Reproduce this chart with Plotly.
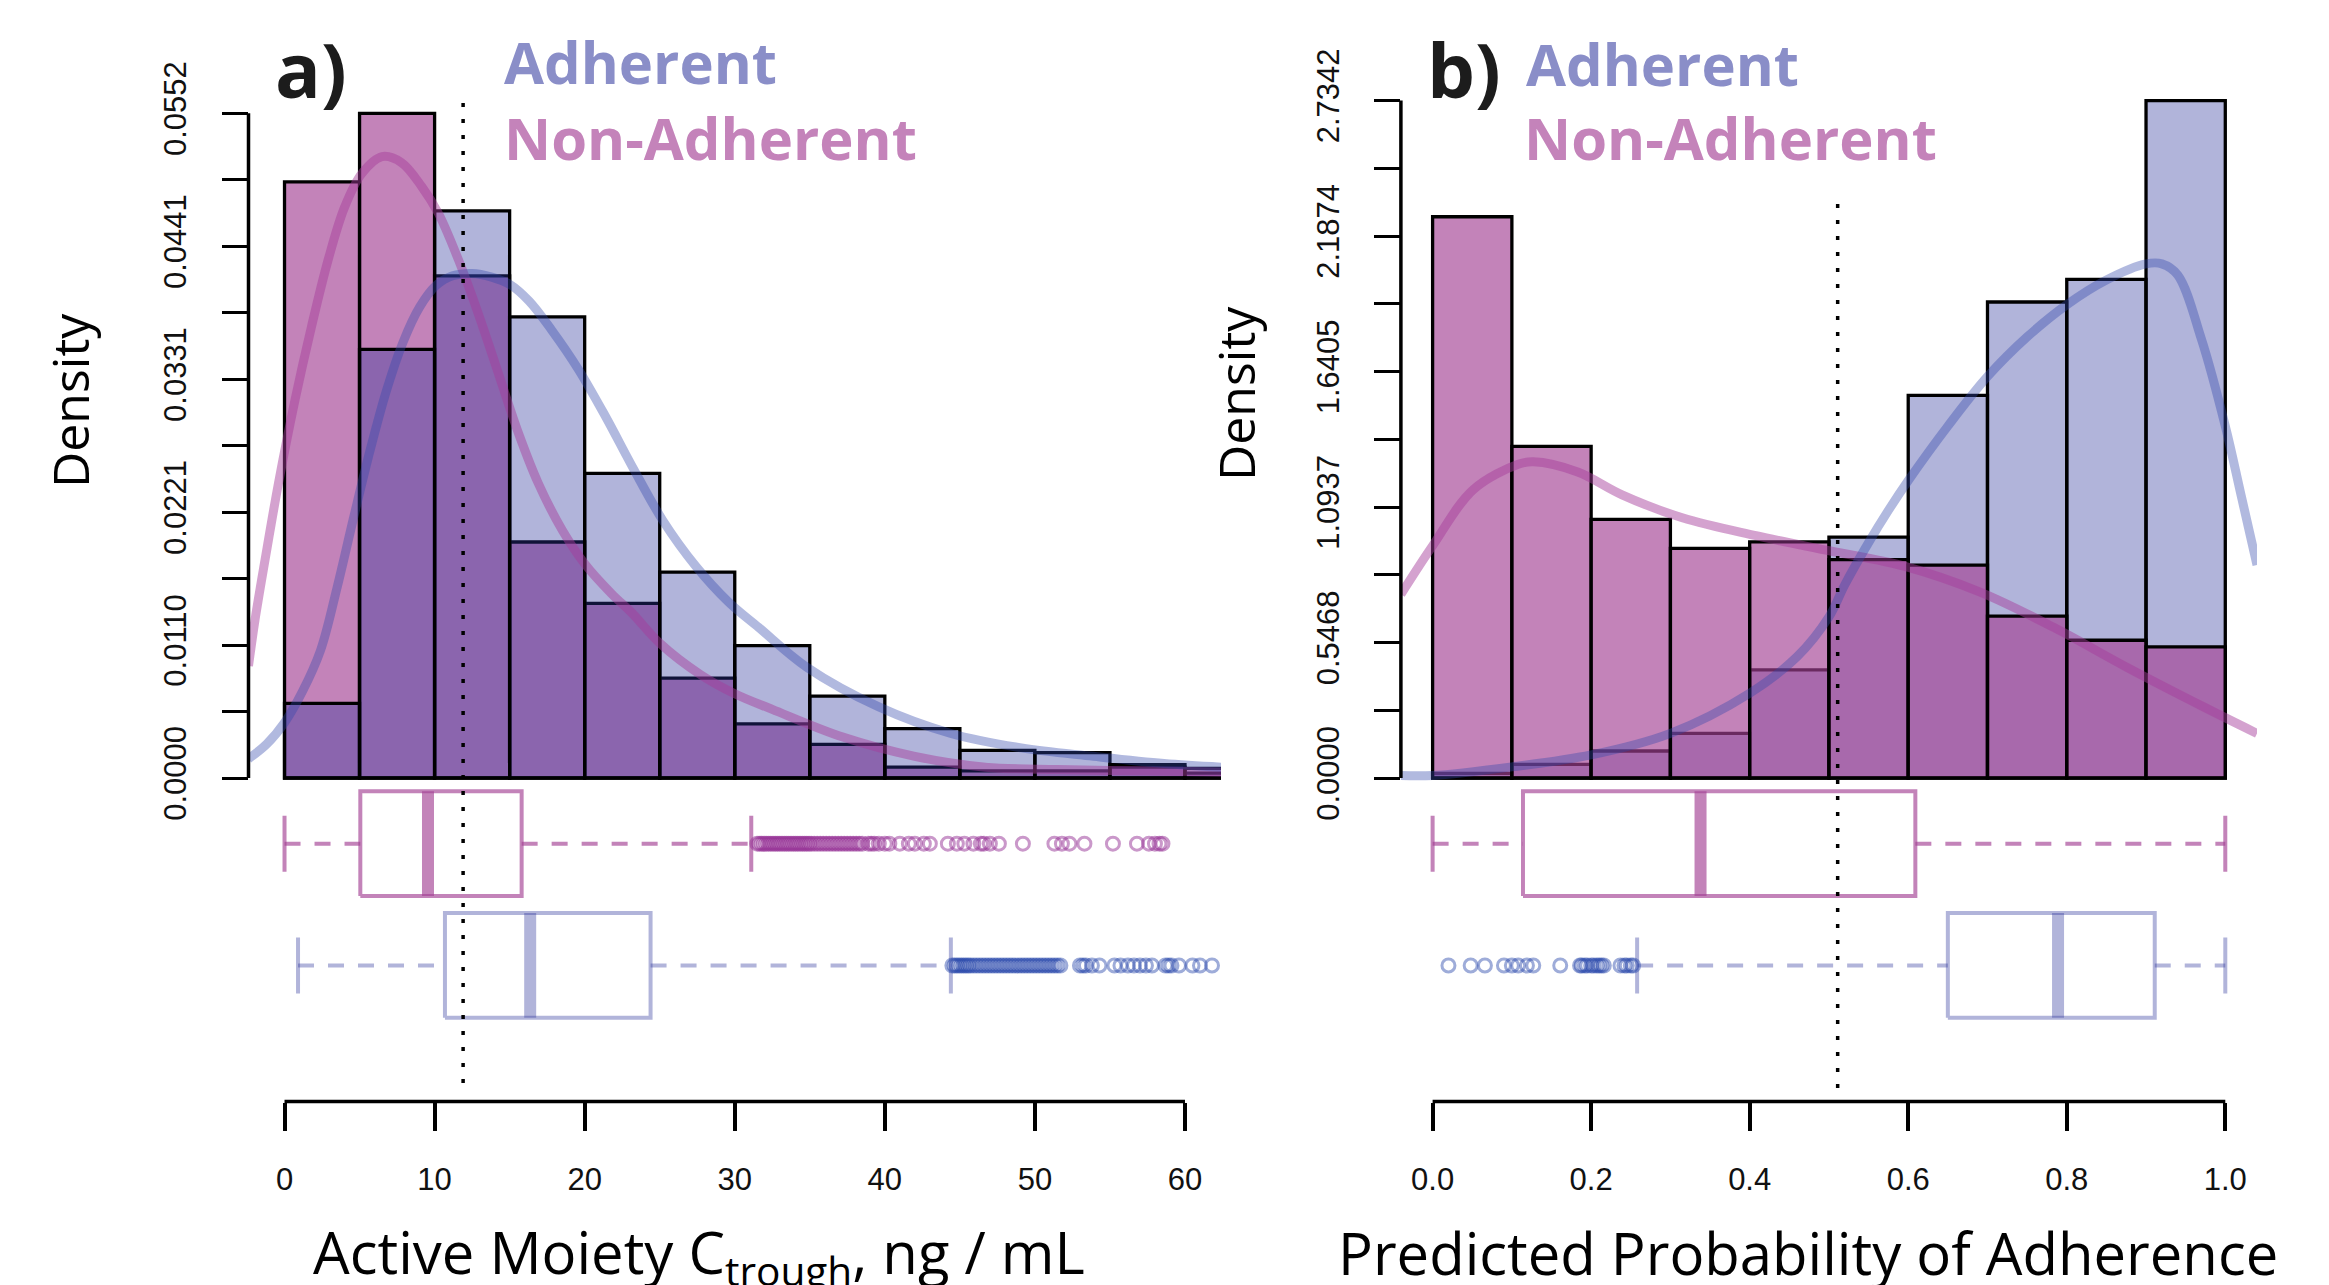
import plotly.graph_objects as go

W, H = 2329, 1285

# ---------------- Panel a: Active Moiety C_trough ----------------
ctrough_bin_edges = [0, 5, 10, 15, 20, 25, 30, 35, 40, 45, 50, 55, 60, 65]
ctrough_density_adherent = [0.0062, 0.0356, 0.0471, 0.0383, 0.0253, 0.0171, 0.0110,
                            0.0068, 0.0041, 0.0023, 0.0021, 0.0011, 0.0008]
ctrough_density_nonadherent = [0.0495, 0.0552, 0.0417, 0.0196, 0.0145, 0.0083, 0.0045,
                               0.0028, 0.0009, 0.0006, 0.0006, 0.0009, 0.0004]

ctrough_kde_adherent_x = [-2.4, -1.2, 0, 1.2, 2.4, 3.5, 4.6, 5.7, 6.8, 7.9, 9.0, 10.1, 11.2,
                          12.5, 13.8, 15.0, 16.3, 17.8, 19.6, 21.4, 23.2, 25.2, 27.4, 29.6,
                          31.6, 34.8, 39.6, 44.4, 49.1, 53.9, 58.6, 62.4]
ctrough_kde_adherent_y = [0.0016, 0.0028, 0.0046, 0.0072, 0.0106, 0.0158, 0.0216, 0.0272,
                          0.0322, 0.0362, 0.0391, 0.0409, 0.0417, 0.0419, 0.0416, 0.0410,
                          0.0396, 0.0372, 0.0339, 0.0300, 0.0258, 0.0214, 0.0176, 0.0146,
                          0.0125, 0.0092, 0.0059, 0.0037, 0.0025, 0.0018, 0.0012, 0.0009]
ctrough_kde_nonadherent_x = [-2.4, -1.97, -1.3, -0.4, 0.7, 1.8, 2.9, 4.0, 5.15, 6.5, 7.8,
                             9.15, 10.25, 11.6, 12.9, 14.25, 15.6, 16.9, 18.5, 20.0, 21.8,
                             23.15, 25.0, 27.7, 30.0, 32.5, 37.2, 42.0, 46.7, 51.5, 57.0, 62.4]
ctrough_kde_nonadherent_y = [0.0093, 0.0131, 0.0181, 0.0245, 0.0314, 0.0375, 0.0430, 0.0474,
                             0.0502, 0.0516, 0.0511, 0.0491, 0.0469, 0.0430, 0.0386, 0.0336,
                             0.0286, 0.0245, 0.0206, 0.0178, 0.0153, 0.0137, 0.0112, 0.0086,
                             0.0070, 0.0057, 0.0034, 0.0018, 0.0009, 0.0007, 0.0006, 0.0005]

# box stats: [lower whisker, Q1, median, Q3, upper whisker]
ctrough_box_adherent = [0.9, 10.69, 16.37, 24.39, 44.4]
ctrough_box_nonadherent = [0.0, 5.05, 9.56, 15.8, 31.1]
ctrough_outliers_adherent = [44.5, 44.65, 44.8, 44.95, 45.1, 45.25, 45.4, 45.55, 45.7, 45.9,
                             46.1, 46.3, 46.5, 46.7, 46.9, 47.1, 47.3, 47.5, 47.7, 47.9, 48.1,
                             48.3, 48.5, 48.7, 48.9, 49.1, 49.3, 49.5, 49.7, 49.9, 50.1, 50.3,
                             50.5, 50.7, 50.9, 51.1, 51.3, 51.5, 51.7, 53.0, 53.2, 53.4, 53.8,
                             54.3, 55.3, 55.7, 56.2, 56.6, 57.0, 57.4, 57.8, 58.7, 58.9, 59.1,
                             59.6, 60.5, 61.0, 61.8]
ctrough_outliers_nonadherent = [31.5, 31.65, 31.8, 31.95, 32.1, 32.25, 32.4, 32.55, 32.7, 32.85,
                                33.0, 33.15, 33.3, 33.45, 33.6, 33.75, 33.9, 34.05, 34.2, 34.35,
                                34.5, 34.65, 34.8, 34.95, 35.1, 35.3, 35.5, 35.7, 35.9, 36.1,
                                36.3, 36.5, 36.7, 36.9, 37.1, 37.3, 37.5, 37.7, 37.9, 38.1,
                                38.3, 38.5, 38.9, 39.1, 39.3, 39.6, 40.0, 40.3, 41.0, 41.6,
                                42.0, 42.6, 43.0, 44.2, 44.8, 45.3, 45.9, 46.4, 46.6, 47.0,
                                47.6, 49.2, 51.3, 51.8, 52.3, 53.3, 55.2, 56.8, 57.6, 58.0,
                                58.3, 58.5]
ctrough_cutoff = 11.9

ctrough_xticks = [0, 10, 20, 30, 40, 50, 60]
density_a_ticks = [0.0, 0.01104, 0.02208, 0.03312, 0.04416, 0.0552]
density_a_ticklabels = ["0.0000", "0.0110", "0.0221", "0.0331", "0.0441", "0.0552"]
density_a_minor = [0.00552, 0.01656, 0.0276, 0.03864, 0.04968]

# ---------------- Panel b: Predicted probability ----------------
prob_bin_edges = [0.0, 0.1, 0.2, 0.3, 0.4, 0.5, 0.6, 0.7, 0.8, 0.9, 1.0]
prob_density_adherent = [0.019, 0.055, 0.109, 0.180, 0.436, 0.972, 1.544, 1.921, 2.012, 2.734]
prob_density_nonadherent = [2.265, 1.338, 1.044, 0.927, 0.953, 0.881, 0.859, 0.653, 0.556, 0.529]

prob_kde_adherent_x = [-0.04, 0.0, 0.1, 0.2, 0.3, 0.4, 0.46, 0.5, 0.52, 0.55, 0.575, 0.6, 0.65,
                       0.7, 0.75, 0.8, 0.85, 0.9, 0.92, 0.94, 0.97, 1.0, 1.02, 1.04]
prob_kde_adherent_y = [0.010, 0.010, 0.045, 0.093, 0.180, 0.342, 0.490, 0.650, 0.780, 0.950,
                       1.080, 1.200, 1.420, 1.620, 1.780, 1.910, 2.010, 2.075, 2.075, 2.030,
                       1.770, 1.420, 1.140, 0.860]
prob_kde_nonadherent_x = [-0.04, 0.0, 0.051, 0.108, 0.127, 0.183, 0.239, 0.315, 0.408, 0.502,
                          0.596, 0.690, 0.784, 0.878, 0.972, 1.04]
prob_kde_nonadherent_y = [0.741, 0.937, 1.163, 1.266, 1.276, 1.235, 1.143, 1.050, 0.978, 0.916,
                          0.854, 0.751, 0.607, 0.443, 0.288, 0.180]

prob_box_adherent = [0.258, 0.650, 0.789, 0.911, 1.0]
prob_box_nonadherent = [0.0, 0.114, 0.338, 0.609, 1.0]
prob_outliers_adherent = [0.020, 0.048, 0.066, 0.090, 0.100, 0.108, 0.119, 0.127, 0.161, 0.186,
                          0.188, 0.192, 0.195, 0.200, 0.203, 0.207, 0.210, 0.213, 0.216, 0.237,
                          0.242, 0.245, 0.250, 0.253]
prob_outliers_nonadherent = []
prob_cutoff = 0.511

prob_xticks = [0.0, 0.2, 0.4, 0.6, 0.8, 1.0]
prob_xticklabels = ["0.0", "0.2", "0.4", "0.6", "0.8", "1.0"]
density_b_ticks = [0.0, 0.54684, 1.09368, 1.64052, 2.18736, 2.7342]
density_b_ticklabels = ["0.0000", "0.5468", "1.0937", "1.6405", "2.1874", "2.7342"]
density_b_minor = [0.27342, 0.82026, 1.3671, 1.91394, 2.46078]

# ---------------- styling ----------------
PINK_FILL = "rgba(163,64,147,0.65)"
BLUE_FILL = "rgba(44,52,155,0.37)"
PINK_LINE = "rgba(165,60,155,0.48)"
BLUE_LINE = "rgba(50,70,170,0.38)"
PINK_PT = "rgba(150,50,150,0.5)"
BLUE_PT = "rgba(40,70,170,0.45)"
PINK_TXT = "rgb(196,131,186)"
BLUE_TXT = "rgb(138,142,200)"
TICK_FONT = dict(family="Liberation Sans, Arial, sans-serif", size=31, color="#111111")
TITLE_FAMILY = "Open Sans, sans-serif"


def px(x):
    return x / W


def py(y):
    return 1 - y / H


fig = go.Figure()


def centers(edges):
    return [(a + b) / 2 for a, b in zip(edges[:-1], edges[1:])]


def widths(edges):
    return [b - a for a, b in zip(edges[:-1], edges[1:])]


def add_hist(edges, vals, color, xa, ya):
    fig.add_trace(go.Bar(x=centers(edges), y=vals, width=widths(edges),
                         marker=dict(color=color, line=dict(color="black", width=3.3)),
                         xaxis=xa, yaxis=ya, hoverinfo="skip", showlegend=False))


def add_curve(xs, ys, color, xa, ya):
    fig.add_trace(go.Scatter(x=xs, y=ys, mode="lines", line=dict(color=color, width=9, shape="spline"),
                             xaxis=xa, yaxis=ya, hoverinfo="skip", showlegend=False))


def add_box(stats, pos, color, xa, ya, outliers, pt_color):
    lo, q1, med, q3, hi = stats
    h, s = 0.43, 0.23
    common = dict(mode="lines", xaxis=xa, yaxis=ya, hoverinfo="skip", showlegend=False)
    fig.add_trace(go.Scatter(x=[lo, q1, None, q3, hi], y=[pos, pos, None, pos, pos],
                             line=dict(color=color, width=4, dash="16px,14px"), **common))
    fig.add_trace(go.Scatter(x=[lo, lo, None, hi, hi], y=[pos - s, pos + s, None, pos - s, pos + s],
                             line=dict(color=color, width=4), **common))
    fig.add_trace(go.Scatter(x=[q1, q3, q3, q1, q1], y=[pos - h, pos - h, pos + h, pos + h, pos - h],
                             line=dict(color=color, width=4), **common))
    fig.add_trace(go.Scatter(x=[med, med], y=[pos - h, pos + h],
                             line=dict(color=color, width=12), **common))
    if outliers:
        fig.add_trace(go.Scatter(x=outliers, y=[pos] * len(outliers), mode="markers",
                                 marker=dict(symbol="circle-open", size=13, color=pt_color,
                                             line=dict(width=3, color=pt_color)),
                                 xaxis=xa, yaxis=ya, hoverinfo="skip", showlegend=False))


# panel a
add_hist(ctrough_bin_edges, ctrough_density_nonadherent, PINK_FILL, "x", "y")
add_hist(ctrough_bin_edges, ctrough_density_adherent, BLUE_FILL, "x", "y")
add_curve(ctrough_kde_nonadherent_x, ctrough_kde_nonadherent_y, PINK_LINE, "x", "y")
add_curve(ctrough_kde_adherent_x, ctrough_kde_adherent_y, BLUE_LINE, "x", "y")
add_box(ctrough_box_nonadherent, 2, PINK_FILL, "x2", "y2", ctrough_outliers_nonadherent, PINK_PT)
add_box(ctrough_box_adherent, 1, BLUE_FILL, "x2", "y2", ctrough_outliers_adherent, BLUE_PT)

# panel b
add_hist(prob_bin_edges, prob_density_adherent, BLUE_FILL, "x3", "y3")
add_hist(prob_bin_edges, prob_density_nonadherent, PINK_FILL, "x3", "y3")
add_curve(prob_kde_nonadherent_x, prob_kde_nonadherent_y, PINK_LINE, "x3", "y3")
add_curve(prob_kde_adherent_x, prob_kde_adherent_y, BLUE_LINE, "x3", "y3")
add_box(prob_box_nonadherent, 2, PINK_FILL, "x4", "y4", prob_outliers_nonadherent, PINK_PT)
add_box(prob_box_adherent, 1, BLUE_FILL, "x4", "y4", prob_outliers_adherent, BLUE_PT)

# ---------------- axes ----------------
xa_dom = [px(248.5), px(1221)]
xb_dom = [px(1400.9), px(2257)]
box_dom = [py(1101.5), py(786)]
box_range = [-0.1166, 2.4737]

hidden = dict(visible=False, showgrid=False, zeroline=False, automargin=False)


def yaxis_hist(dom, rng, tv, tt, minor):
    return dict(domain=dom, range=rng, tickvals=tv, ticktext=tt, ticks="outside", ticklen=26,
                tickwidth=3.3, tickcolor="black", tickangle=-90, tickfont=TICK_FONT,
                ticklabelstandoff=23, showline=False, showgrid=False, zeroline=False,
                automargin=False,
                minor=dict(tickvals=minor, ticks="outside", ticklen=26, tickwidth=3.3,
                           tickcolor="black", showgrid=False))


def xaxis_box(dom, rng, anchor, tv, tt):
    return dict(domain=dom, range=rng, anchor=anchor, tickvals=tv, ticktext=tt, ticks="outside",
                ticklen=28, tickwidth=3.5, tickcolor="black", tickfont=TICK_FONT,
                ticklabelstandoff=22, showline=False, showgrid=False, zeroline=False,
                automargin=False)


fig.update_layout(
    template="none",
    width=W, height=H, margin=dict(l=0, r=0, t=0, b=0, pad=0, autoexpand=False),
    paper_bgcolor="white", plot_bgcolor="white", barmode="overlay", showlegend=False,
    xaxis=dict(domain=xa_dom, range=[-2.4, 62.4], anchor="y", **hidden),
    yaxis=yaxis_hist([py(804.6), py(86.7)], [-0.002208, 0.057408], density_a_ticks,
                     density_a_ticklabels, density_a_minor) | dict(anchor="x"),
    xaxis2=xaxis_box(xa_dom, [-2.4, 62.4], "y2", ctrough_xticks, [str(t) for t in ctrough_xticks]),
    yaxis2=dict(domain=box_dom, range=box_range, anchor="x2", **hidden),
    xaxis3=dict(domain=xb_dom, range=[-0.04, 1.04], anchor="y3", **hidden),
    yaxis3=yaxis_hist([py(805.1), py(73.4)], [-0.109368, 2.843568], density_b_ticks,
                      density_b_ticklabels, density_b_minor) | dict(anchor="x3"),
    xaxis4=xaxis_box(xb_dom, [-0.04, 1.04], "y4", prob_xticks, prob_xticklabels),
    yaxis4=dict(domain=box_dom, range=box_range, anchor="x4", **hidden),
)

# axis lines (R style: spanning first to last tick only)
axis_line = dict(color="black", width=3.5)
fig.add_shape(type="line", xref="x domain", yref="y", x0=0, x1=0,
              y0=density_a_ticks[0], y1=density_a_ticks[-1], line=axis_line)
fig.add_shape(type="line", xref="x3 domain", yref="y3", x0=0, x1=0,
              y0=density_b_ticks[0], y1=density_b_ticks[-1], line=axis_line)
fig.add_shape(type="line", xref="x2", yref="y2 domain", x0=ctrough_xticks[0], x1=ctrough_xticks[-1],
              y0=0, y1=0, line=axis_line)
fig.add_shape(type="line", xref="x4", yref="y4 domain", x0=prob_xticks[0], x1=prob_xticks[-1],
              y0=0, y1=0, line=axis_line)

# cutoff dotted lines
dot = dict(color="black", width=3.5, dash="4px,12px")
fig.add_shape(type="line", xref="x", yref="paper", x0=ctrough_cutoff, x1=ctrough_cutoff,
              y0=py(1083), y1=py(94), line=dot)
fig.add_shape(type="line", xref="x3", yref="paper", x0=prob_cutoff, x1=prob_cutoff,
              y0=py(1088), y1=py(196), line=dot)

# ---------------- text ----------------
def ann(text, x, y, size, color="black", xanchor="left", angle=0, bold=False):
    fig.add_annotation(text=("<b>%s</b>" % text) if bold else text, x=px(x), y=py(y),
                       xref="paper", yref="paper", xanchor=xanchor, yanchor="middle",
                       showarrow=False, textangle=angle,
                       font=dict(family=TITLE_FAMILY, size=size, color=color))


ann("a)", 349, 68, 76, "#1c1c1c", xanchor="right", bold=True)
ann("Adherent", 502, 61, 58, BLUE_TXT, bold=True)
ann("Non-Adherent", 502, 138, 58, PINK_TXT, bold=True)
ann("b)", 1503, 68, 76, "#1c1c1c", xanchor="right", bold=True)
ann("Adherent", 1524, 63, 58, BLUE_TXT, bold=True)
ann("Non-Adherent", 1522, 138, 58, PINK_TXT, bold=True)
ann("Density", 70, 401, 50, xanchor="center", angle=-90)
ann("Density", 1236, 394, 50, xanchor="center", angle=-90)
ann("Active Moiety C<sub>trough</sub>, ng / mL", 699, 1255, 58, xanchor="center")
ann("Predicted Probability of Adherence", 1808, 1252, 58, xanchor="center")

fig.write_html("out.html",
               config={"displayModeBar": False},
               post_script="document.body.style.margin='0px';document.body.style.overflow='hidden';")
